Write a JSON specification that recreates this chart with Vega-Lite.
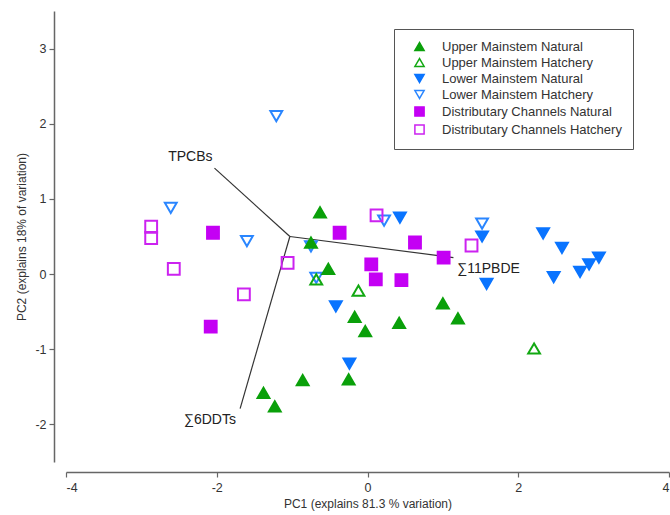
{
  "$schema": "https://vega.github.io/schema/vega-lite/v6.json",
  "width": 603,
  "height": 451,
  "autosize": {"type": "none"},
  "padding": {"left": 66, "top": 11, "right": 1, "bottom": 53},
  "background": "white",
  "config": {
    "view": {"stroke": null},
    "font": "Liberation Sans",
    "axis": {
      "grid": false,
      "domainColor": "#666666",
      "domainWidth": 1.5,
      "tickColor": "#666666",
      "tickWidth": 1.2,
      "tickSize": 5,
      "labelColor": "#333333",
      "labelFontSize": 12.5,
      "labelFont": "Liberation Sans",
      "titleFont": "Liberation Sans",
      "titleFontSize": 12,
      "titleFontWeight": "normal",
      "titleColor": "#333333"
    },
    "legend": {
      "orient": "none",
      "legendX": 328,
      "legendY": 18,
      "strokeColor": "#555555",
      "fillColor": "white",
      "padding": 11,
      "symbolOffset": 8,
      "labelOffset": 16,
      "labelFontSize": 13,
      "labelFont": "Liberation Sans",
      "labelColor": "#333333",
      "symbolSize": 85,
      "symbolStrokeWidth": 1.5,
      "rowPadding": 1,
      "labelLimit": 300
    }
  },
  "datasets": {
    "points": [
      {"group": "Lower Mainstem Hatchery", "pc1": -1.21, "pc2": 2.10},
      {"group": "Lower Mainstem Hatchery", "pc1": -2.61, "pc2": 0.88},
      {"group": "Lower Mainstem Hatchery", "pc1": -1.60, "pc2": 0.44},
      {"group": "Lower Mainstem Hatchery", "pc1": -0.75, "pc2": 0.37},
      {"group": "Lower Mainstem Hatchery", "pc1": -0.68, "pc2": -0.05},
      {"group": "Lower Mainstem Hatchery", "pc1": 0.22, "pc2": 0.71},
      {"group": "Lower Mainstem Hatchery", "pc1": 1.52, "pc2": 0.67},
      {"group": "Lower Mainstem Natural", "pc1": 0.43, "pc2": 0.75},
      {"group": "Lower Mainstem Natural", "pc1": 1.52, "pc2": 0.50},
      {"group": "Lower Mainstem Natural", "pc1": 1.58, "pc2": -0.13},
      {"group": "Lower Mainstem Natural", "pc1": -0.42, "pc2": -0.43},
      {"group": "Lower Mainstem Natural", "pc1": -0.24, "pc2": -1.19},
      {"group": "Lower Mainstem Natural", "pc1": 2.33, "pc2": 0.54},
      {"group": "Lower Mainstem Natural", "pc1": 2.58, "pc2": 0.35},
      {"group": "Lower Mainstem Natural", "pc1": 2.47, "pc2": -0.04},
      {"group": "Lower Mainstem Natural", "pc1": 2.82, "pc2": 0.03},
      {"group": "Lower Mainstem Natural", "pc1": 2.94, "pc2": 0.13},
      {"group": "Lower Mainstem Natural", "pc1": 3.07, "pc2": 0.22},
      {"group": "Distributary Channels Hatchery", "pc1": -2.87, "pc2": 0.63},
      {"group": "Distributary Channels Hatchery", "pc1": -2.87, "pc2": 0.48},
      {"group": "Distributary Channels Hatchery", "pc1": -2.57, "pc2": 0.07},
      {"group": "Distributary Channels Hatchery", "pc1": -1.64, "pc2": -0.27},
      {"group": "Distributary Channels Hatchery", "pc1": -1.06, "pc2": 0.15},
      {"group": "Distributary Channels Hatchery", "pc1": 0.12, "pc2": 0.78},
      {"group": "Distributary Channels Hatchery", "pc1": 1.38, "pc2": 0.38},
      {"group": "Distributary Channels Natural", "pc1": -2.05, "pc2": 0.55},
      {"group": "Distributary Channels Natural", "pc1": -2.08, "pc2": -0.70},
      {"group": "Distributary Channels Natural", "pc1": -0.37, "pc2": 0.55},
      {"group": "Distributary Channels Natural", "pc1": 0.63, "pc2": 0.42},
      {"group": "Distributary Channels Natural", "pc1": 1.01, "pc2": 0.22},
      {"group": "Distributary Channels Natural", "pc1": 0.05, "pc2": 0.13},
      {"group": "Distributary Channels Natural", "pc1": 0.11, "pc2": -0.07},
      {"group": "Distributary Channels Natural", "pc1": 0.45, "pc2": -0.08},
      {"group": "Upper Mainstem Hatchery", "pc1": -0.68, "pc2": -0.07},
      {"group": "Upper Mainstem Hatchery", "pc1": -0.12, "pc2": -0.22},
      {"group": "Upper Mainstem Hatchery", "pc1": 2.21, "pc2": -0.99},
      {"group": "Upper Mainstem Natural", "pc1": -0.63, "pc2": 0.82},
      {"group": "Upper Mainstem Natural", "pc1": -0.75, "pc2": 0.42},
      {"group": "Upper Mainstem Natural", "pc1": -0.52, "pc2": 0.07},
      {"group": "Upper Mainstem Natural", "pc1": -0.17, "pc2": -0.57},
      {"group": "Upper Mainstem Natural", "pc1": -0.03, "pc2": -0.76},
      {"group": "Upper Mainstem Natural", "pc1": 0.42, "pc2": -0.65},
      {"group": "Upper Mainstem Natural", "pc1": 1.00, "pc2": -0.39},
      {"group": "Upper Mainstem Natural", "pc1": 1.20, "pc2": -0.59},
      {"group": "Upper Mainstem Natural", "pc1": -1.38, "pc2": -1.58},
      {"group": "Upper Mainstem Natural", "pc1": -1.23, "pc2": -1.76},
      {"group": "Upper Mainstem Natural", "pc1": -0.86, "pc2": -1.41},
      {"group": "Upper Mainstem Natural", "pc1": -0.25, "pc2": -1.40}
    ],
    "loadings": [
      {"variable": "TPCBs", "x0": -1.03, "y0": 0.50, "x1": -2.03, "y1": 1.41, "lx": -2.35, "ly": 1.56, "align": "center"},
      {"variable": "∑11PBDE", "x0": -1.03, "y0": 0.50, "x1": 1.14, "y1": 0.22, "lx": 1.19, "ly": 0.07, "align": "left"},
      {"variable": "∑6DDTs", "x0": -1.03, "y0": 0.50, "x1": -1.69, "y1": -1.79, "lx": -2.09, "ly": -1.94, "align": "center"}
    ]
  },
  "layer": [
    {
      "data": {"name": "loadings"},
      "mark": {"type": "rule", "color": "#333333", "strokeWidth": 1.2},
      "encoding": {
        "x": {"field": "x0", "type": "quantitative", "scale": {"domain": [-4, 4]}, "title": "PC1 (explains 81.3 % variation)"},
        "y": {"field": "y0", "type": "quantitative", "scale": {"domain": [-2.5, 3.5]}, "title": "PC2 (explains 18% of variation)"},
        "x2": {"field": "x1"},
        "y2": {"field": "y1"}
      }
    },
    {
      "data": {"name": "loadings"},
      "transform": [{"filter": "datum.align == 'center'"}],
      "mark": {"type": "text", "fontSize": 14, "color": "#222222", "align": "center", "baseline": "middle", "font": "Liberation Sans"},
      "encoding": {
        "x": {"field": "lx", "type": "quantitative"},
        "y": {"field": "ly", "type": "quantitative"},
        "text": {"field": "variable"}
      }
    },
    {
      "data": {"name": "loadings"},
      "transform": [{"filter": "datum.align == 'left'"}],
      "mark": {"type": "text", "fontSize": 14, "color": "#222222", "align": "left", "baseline": "middle", "font": "Liberation Sans"},
      "encoding": {
        "x": {"field": "lx", "type": "quantitative"},
        "y": {"field": "ly", "type": "quantitative"},
        "text": {"field": "variable"}
      }
    },
    {
      "data": {"name": "points"},
      "mark": {"type": "point", "size": 140, "strokeWidth": 2, "opacity": 1, "fillOpacity": 1},
      "encoding": {
        "x": {
          "field": "pc1", "type": "quantitative",
          "scale": {"domain": [-4, 4]},
          "title": "PC1 (explains 81.3 % variation)",
          "axis": {"values": [-4, -2, 0, 2, 4], "labelExpr": "toString(datum.value)", "offset": 10, "labelPadding": 4, "titlePadding": 5}
        },
        "y": {
          "field": "pc2", "type": "quantitative",
          "scale": {"domain": [-2.5, 3.5]},
          "title": "PC2 (explains 18% of variation)",
          "axis": {"values": [-2, -1, 0, 1, 2, 3], "labelExpr": "toString(datum.value)", "offset": 12, "labelPadding": 3, "titlePadding": 6}
        },
        "shape": {
          "field": "group", "type": "nominal",
          "scale": {
            "domain": ["Upper Mainstem Natural", "Upper Mainstem Hatchery", "Lower Mainstem Natural", "Lower Mainstem Hatchery", "Distributary Channels Natural", "Distributary Channels Hatchery"],
            "range": ["triangle-up", "triangle-up", "triangle-down", "triangle-down", "square", "square"]
          },
          "legend": {"title": null, "encode": {"symbols": {"update": {"stroke": {"signal": "indexof(datum.value, 'Natural') >= 0 ? '#1a1a1a' : (indexof(datum.value, 'Upper') >= 0 ? '#44cc44' : (indexof(datum.value, 'Lower') >= 0 ? '#4499ee' : '#dd55ff'))"}}}}}
        },
        "fill": {
          "field": "group", "type": "nominal",
          "scale": {
            "domain": ["Upper Mainstem Natural", "Upper Mainstem Hatchery", "Lower Mainstem Natural", "Lower Mainstem Hatchery", "Distributary Channels Natural", "Distributary Channels Hatchery"],
            "range": ["#0aa00a", "transparent", "#0a74ff", "transparent", "#c400f4", "transparent"]
          },
          "legend": {"title": null, "encode": {"symbols": {"update": {"stroke": {"signal": "indexof(datum.value, 'Natural') >= 0 ? '#1a1a1a' : (indexof(datum.value, 'Upper') >= 0 ? '#44cc44' : (indexof(datum.value, 'Lower') >= 0 ? '#4499ee' : '#dd55ff'))"}}}}}
        },
        "stroke": {
          "field": "group", "type": "nominal",
          "scale": {
            "domain": ["Upper Mainstem Natural", "Upper Mainstem Hatchery", "Lower Mainstem Natural", "Lower Mainstem Hatchery", "Distributary Channels Natural", "Distributary Channels Hatchery"],
            "range": ["#0aa00a", "#12a812", "#0a74ff", "#2a86ff", "#c400f4", "#cc22f0"]
          },
          "legend": {"title": null, "encode": {"symbols": {"update": {"stroke": {"signal": "indexof(datum.value, 'Natural') >= 0 ? '#1a1a1a' : (indexof(datum.value, 'Upper') >= 0 ? '#44cc44' : (indexof(datum.value, 'Lower') >= 0 ? '#4499ee' : '#dd55ff'))"}}}}}
        }
      }
    }
  ]
}
